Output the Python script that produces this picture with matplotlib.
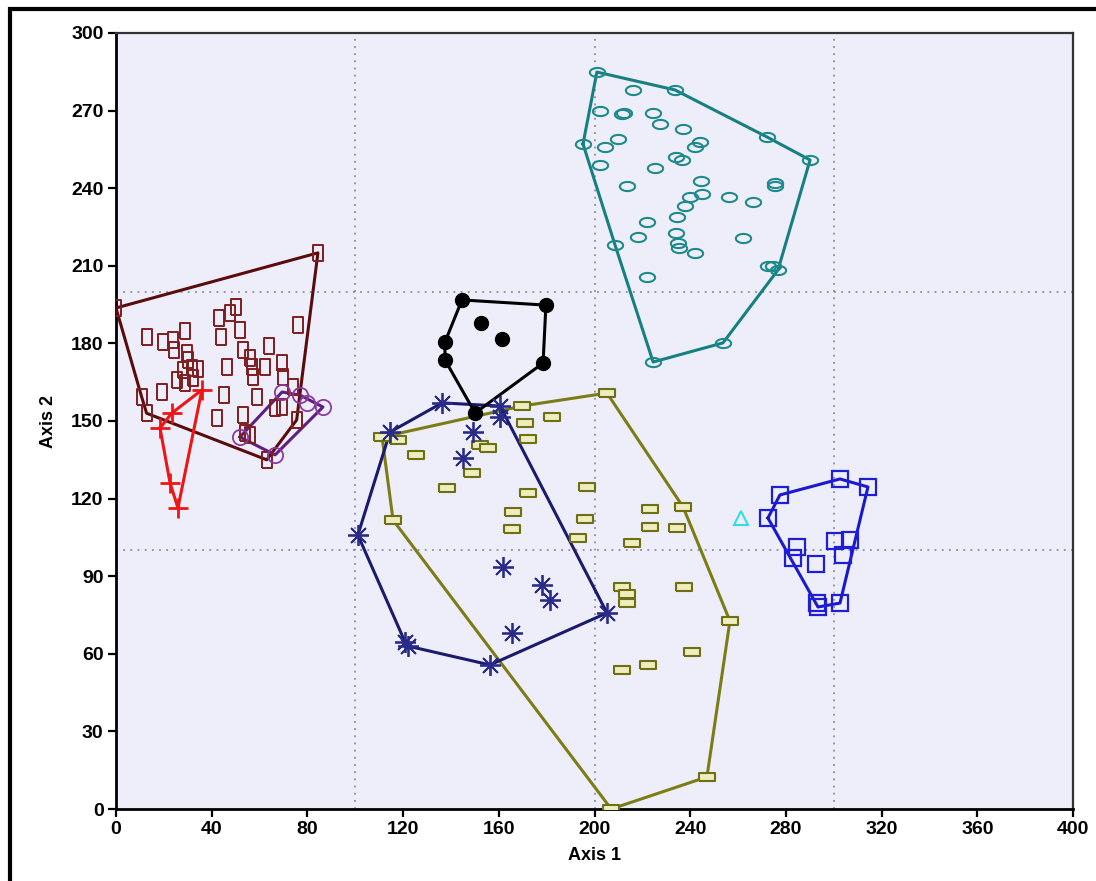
import numpy as np
import matplotlib
matplotlib.use('Agg')
import matplotlib.pyplot as plt
from matplotlib.patches import Rectangle

plt.rcParams['font.family'] = ['Liberation Sans', 'DejaVu Sans']

# group data (Axis 1, Axis 2)
maroon_x = [0, 10.7, 12.8, 63, 75.5, 84.4, 13.0, 19.6, 23.8, 24.2, 28.8, 29.7, 30.1, 28.0, 31.8,
            34.3, 25.5, 28.8, 32.2, 19.2, 43.1, 47.6, 50.2, 43.9, 51.8, 53.1, 56.0, 56.8, 57.3,
            46.4, 45.1, 42.2, 53.1, 58.9, 62.3, 64.0, 69.4, 69.8, 76.1, 74.0, 66.5, 69.4, 56.0, 53.9]
maroon_y = [193.7, 159.4, 153.0, 135, 150.4, 215, 182.5, 180.5, 181.3, 177.4, 184.8, 176.3, 173.6,
            169.7, 170.5, 170.1, 165.8, 164.7, 166.6, 161.2, 189.8, 191.7, 194.1, 182.5, 185.2,
            177.4, 174.4, 170.9, 167.0, 170.9, 160.0, 151.2, 152.3, 159.3, 170.9, 179.0, 172.4,
            167.0, 187.1, 163.1, 155.0, 155.4, 144.6, 145.4]

red_x = [35.9, 18.4, 25.9, 23.4, 22.6]
red_y = [162.0, 147.3, 116.4, 153.1, 126.0]

purple_x = [51.8, 66.5, 86.5, 69.4, 76.9, 79.8]
purple_y = [143.8, 136.9, 155.4, 161.2, 160.0, 157.0]

black_x = [144.6, 179.7, 178.5, 150.1, 137.5, 137.5, 152.6, 161.3]
black_y = [196.8, 194.8, 172.4, 153.1, 173.6, 180.5, 187.9, 181.7]

navy_x = [136.3, 160.5, 160.5, 205.2, 156.3, 120.8, 122.0, 101.1, 114.5, 149.2, 145.0, 161.8,
          178.1, 181.4, 165.5]
navy_y = [157.0, 155.8, 151.5, 75.8, 55.7, 64.6, 63.0, 105.9, 145.7, 145.7, 135.7, 93.6,
          86.6, 80.8, 68.0]

olive_x = [205.2, 237.0, 256.6, 247.0, 207.0, 111.2, 115.8, 169.7, 117.9, 125.4, 152.1, 155.5,
           148.8, 138.3, 171.0, 172.2, 182.2, 172.2, 165.9, 165.5, 196.9, 196.0, 193.1, 223.2,
           223.2, 215.7, 211.5, 213.6, 213.6, 211.5, 222.4, 234.5, 237.4, 240.8]
olive_y = [160.8, 116.8, 72.7, 12.4, 0.0, 143.8, 111.7, 155.8, 142.7, 136.9, 140.7, 139.6,
           129.9, 124.1, 149.2, 143.0, 151.5, 122.2, 114.8, 108.2, 124.5, 112.1, 104.8, 116.0,
           109.0, 102.8, 85.8, 83.2, 79.6, 53.7, 55.7, 108.6, 85.8, 60.7]

teal_x = [201.0, 233.6, 272.1, 290.1, 276.7, 274.6, 253.7, 224.5, 208.6, 195.2, 216.1, 202.3,
          211.5, 212.5, 224.5, 227.4, 237.0, 209.8, 204.4, 202.3, 225.3, 234.1, 236.6, 244.1,
          242.0, 213.6, 244.5, 244.9, 239.9, 237.8, 234.5, 221.9, 218.2, 234.1, 234.9, 235.3,
          242.0, 256.2, 266.2, 275.4, 275.4, 262.1, 221.9, 272.5]
teal_y = [284.9, 278.0, 259.8, 250.9, 208.4, 209.9, 180.2, 172.8, 218.0, 257.1, 278.0, 269.8,
          268.7, 269.2, 269.1, 264.8, 262.9, 259.0, 255.9, 249.0, 247.8, 252.1, 250.9, 257.9,
          255.9, 240.8, 242.8, 237.8, 236.6, 233.1, 228.9, 226.9, 221.1, 222.7, 218.8, 216.9,
          214.9, 236.6, 234.7, 242.0, 240.8, 220.7, 205.7, 209.9]

blue_x = [277.5, 302.6, 314.3, 302.6, 293.0, 272.5, 284.6, 283.0, 292.6, 300.5, 306.8, 303.9, 293.4]
blue_y = [121.4, 127.6, 124.5, 79.6, 79.6, 112.5, 101.3, 97.0, 94.7, 103.6, 104.0, 98.2, 78.1]

cyan_x = [261.2]
cyan_y = [112.5]

grid_x = [100, 200, 300]
grid_y = [100, 200]


def hull(xs, ys):
    pts = sorted(set(zip(xs, ys)))
    if len(pts) < 3:
        return pts

    def cross(o, a, b):
        return (a[0] - o[0]) * (b[1] - o[1]) - (a[1] - o[1]) * (b[0] - o[0])

    lower = []
    for p in pts:
        while len(lower) >= 2 and cross(lower[-2], lower[-1], p) <= 0:
            lower.pop()
        lower.append(p)
    upper = []
    for p in reversed(pts):
        while len(upper) >= 2 and cross(upper[-2], upper[-1], p) <= 0:
            upper.pop()
        upper.append(p)
    h = lower[:-1] + upper[:-1]
    return h + [h[0]]


tall_rect = [(-0.27, -0.5), (0.27, -0.5), (0.27, 0.5), (-0.27, 0.5), (-0.27, -0.5)]
wide_rect = [(-0.5, -0.27), (0.5, -0.27), (0.5, 0.27), (-0.5, 0.27), (-0.5, -0.27)]
t = np.linspace(0, 2 * np.pi, 41)
ellipse = list(zip(np.cos(t), 0.6 * np.sin(t)))

fig = plt.figure(figsize=(10.96, 8.81), dpi=100)
ax = fig.add_axes([116 / 1096, 1 - 809 / 881, (1073 - 116) / 1096, (809 - 33) / 881])
ax.set_facecolor('#EEEEFB')

for gx in grid_x:
    ax.axvline(gx, color='#7A7A99', ls=(0, (1.2, 3.5)), lw=1.1, zorder=1)
for gy in grid_y:
    ax.axhline(gy, color='#7A7A99', ls=(0, (1.2, 3.5)), lw=1.1, zorder=1)

groups = [
    (maroon_x, maroon_y, '#5A0C0C', dict(marker=tall_rect, ms=12, mfc='none', mec='#7E1E1E', mew=1.4)),
    (purple_x, purple_y, '#5E1F80', dict(marker='o', ms=11, mfc='none', mec='#8A3A9E', mew=1.3)),
    (red_x, red_y, '#EE1515', dict(marker='+', ms=14, mec='#EE1515', mew=2)),
    (olive_x, olive_y, '#7C7C14', dict(marker=wide_rect, ms=11, mfc='#EDEDBE', mec='#6E6E14', mew=1.5)),
    (navy_x, navy_y, '#1B1B6E', dict(marker=(8, 2, 0), ms=15, mec='#2A2A8A', mew=1.3)),
    (black_x, black_y, '#000000', dict(marker='o', ms=10, mfc='#000000', mec='#000000')),
    (teal_x, teal_y, '#168080', dict(marker=ellipse, ms=11, mfc='none', mec='#1C8A8A', mew=1.5)),
    (blue_x, blue_y, '#1A1ACC', dict(marker='s', ms=11, mfc='none', mec='#1E1ED8', mew=1.6)),
]

for xs, ys, lc, mk in groups:
    h = hull(xs, ys)
    ax.plot([p[0] for p in h], [p[1] for p in h], color=lc, lw=2.2, zorder=3)
    ax.plot(xs, ys, ls='none', zorder=4, **mk)

ax.plot(cyan_x, cyan_y, ls='none', marker='^', ms=10, mfc='none', mec='#33DDE6', mew=1.5, zorder=4)

ax.set_xlim(0, 400)
ax.set_ylim(0, 300)
ax.set_xticks(np.arange(0, 401, 40))
ax.set_yticks(np.arange(0, 301, 30))
ax.tick_params(direction='out', length=6, width=1.6, pad=3, labelsize=14)
for lab in ax.get_xticklabels() + ax.get_yticklabels():
    lab.set_fontweight('bold')
for s in ['left', 'bottom']:
    ax.spines[s].set_linewidth(2.0)
for s in ['top', 'right']:
    ax.spines[s].set_linewidth(1.6)
    ax.spines[s].set_color('#333333')

ax.set_xlabel('Axis 1', fontsize=13, fontweight='bold', labelpad=6)
ax.set_ylabel('Axis 2', fontsize=13, fontweight='bold', labelpad=10)

# black frame around the figure
fig.patches.append(Rectangle((10 / 1096, -0.2), 1.5, 1.2 - 9 / 881, transform=fig.transFigure,
                             fill=False, edgecolor='black', lw=3, zorder=10))

fig.savefig('out.png', dpi=100)
